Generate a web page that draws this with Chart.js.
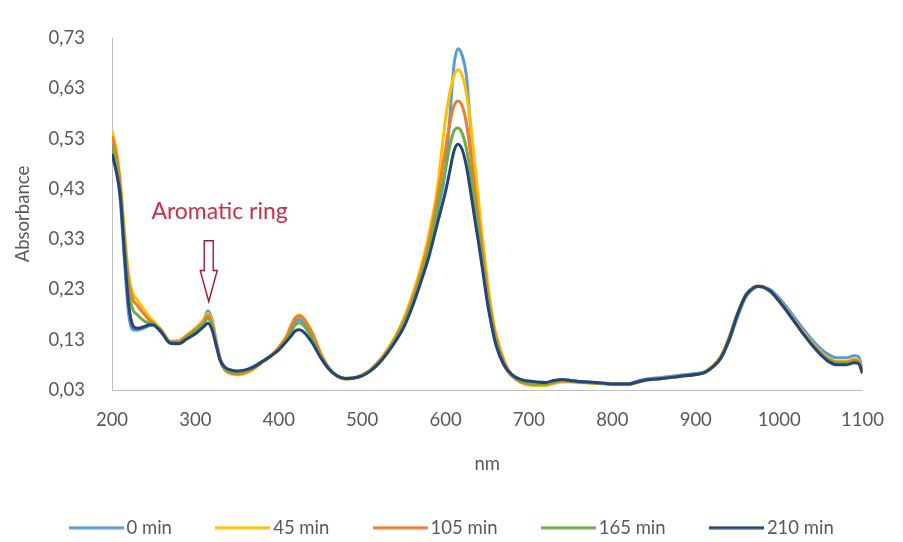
<!DOCTYPE html>
<html>
<head>
<meta charset="utf-8">
<script src="https://cdn.jsdelivr.net/npm/chart.js@4.4.1/dist/chart.umd.min.js"></script>
<style>
  html, body { margin: 0; padding: 0; background: #ffffff; }
  #wrap { width: 903px; height: 542px; }
</style>
</head>
<body>
<div id="wrap"><canvas id="spectra" width="903" height="542"></canvas></div>
<script>
// Wavelength grid (nm)
const wavelengths = [
  200, 205, 210, 215, 220, 225, 230, 235, 240, 245, 250, 255, 260,
  270, 280, 290, 300, 310,
  315, 320, 325, 330, 335, 340,
  350, 360, 370, 380, 390, 400, 410,
  415, 420, 425, 430,
  440, 450, 460, 470, 480, 490, 500, 510, 520, 530, 540, 550, 560, 570, 580, 590, 600,
  605, 610, 615, 620, 625, 630, 635, 640, 645, 650, 655, 660,
  670, 680, 690, 700, 710, 720, 730, 740, 750, 760,
  780, 800, 820, 830, 840, 860, 880, 900,
  910, 920, 930, 940, 950, 960, 970,
  975, 980, 990, 1000, 1010, 1020, 1030, 1040, 1050, 1060, 1070, 1080, 1090,
  1095, 1100
];

// Absorbance at each wavelength, one array per irradiation time
const abs0min = [
  0.520, 0.475, 0.405, 0.285, 0.180, 0.150, 0.149, 0.151, 0.154, 0.158, 0.160, 0.155, 0.146,
  0.124, 0.123, 0.135, 0.150, 0.170,
  0.187, 0.170, 0.128, 0.092, 0.075, 0.069,
  0.066, 0.069, 0.077, 0.087, 0.098, 0.112, 0.135,
  0.152, 0.166, 0.170, 0.164,
  0.138, 0.100, 0.073, 0.058, 0.053, 0.054, 0.059, 0.069, 0.084, 0.105, 0.130, 0.160, 0.200, 0.250, 0.305, 0.380, 0.470,
  0.570, 0.675, 0.709, 0.695, 0.655, 0.550, 0.435, 0.350, 0.275, 0.212, 0.163, 0.125,
  0.079, 0.057, 0.048, 0.045, 0.044, 0.044, 0.048, 0.050, 0.049, 0.047,
  0.045, 0.043, 0.043, 0.048, 0.052, 0.055, 0.059, 0.063,
  0.066, 0.076, 0.093, 0.128, 0.175, 0.215, 0.233,
  0.236, 0.235, 0.229, 0.213, 0.193, 0.171, 0.149, 0.129, 0.112, 0.100, 0.094, 0.094, 0.098,
  0.097, 0.072
];

const abs45min = [
  0.545, 0.510, 0.445, 0.345, 0.258, 0.222, 0.210, 0.198, 0.186, 0.175, 0.166, 0.157, 0.148,
  0.127, 0.128, 0.140, 0.153, 0.170,
  0.182, 0.167, 0.125, 0.088, 0.070, 0.064,
  0.060, 0.063, 0.072, 0.085, 0.098, 0.115, 0.140,
  0.160, 0.175, 0.179, 0.173,
  0.145, 0.105, 0.075, 0.058, 0.052, 0.054, 0.060, 0.071, 0.088, 0.110, 0.138, 0.173, 0.218, 0.272, 0.340, 0.430, 0.570,
  0.620, 0.655, 0.667, 0.655, 0.620, 0.560, 0.480, 0.400, 0.320, 0.250, 0.190, 0.145,
  0.090, 0.058, 0.045, 0.040, 0.039, 0.039, 0.043, 0.046, 0.046, 0.045,
  0.043, 0.041, 0.041, 0.045, 0.049, 0.053, 0.057, 0.061,
  0.065, 0.077, 0.097, 0.136, 0.182, 0.220, 0.235,
  0.237, 0.236, 0.226, 0.208, 0.187, 0.165, 0.143, 0.123, 0.105, 0.093, 0.087, 0.087, 0.091,
  0.089, 0.068
];

const abs105min = [
  0.535, 0.500, 0.435, 0.330, 0.245, 0.210, 0.199, 0.188, 0.178, 0.169, 0.163, 0.156, 0.147,
  0.126, 0.127, 0.138, 0.151, 0.166,
  0.178, 0.163, 0.123, 0.088, 0.071, 0.065,
  0.062, 0.065, 0.073, 0.085, 0.097, 0.114, 0.138,
  0.158, 0.173, 0.177, 0.171,
  0.143, 0.103, 0.074, 0.058, 0.052, 0.054, 0.060, 0.070, 0.086, 0.108, 0.134, 0.167, 0.210, 0.262, 0.325, 0.410, 0.510,
  0.560, 0.595, 0.605, 0.595, 0.560, 0.500, 0.430, 0.365, 0.295, 0.230, 0.178, 0.137,
  0.086, 0.058, 0.046, 0.042, 0.041, 0.041, 0.045, 0.048, 0.047, 0.046,
  0.044, 0.042, 0.042, 0.046, 0.050, 0.053, 0.057, 0.061,
  0.065, 0.077, 0.096, 0.134, 0.182, 0.220, 0.235,
  0.237, 0.236, 0.225, 0.207, 0.186, 0.164, 0.141, 0.121, 0.103, 0.091, 0.085, 0.085, 0.089,
  0.087, 0.067
];

const abs165min = [
  0.515, 0.480, 0.420, 0.315, 0.225, 0.190, 0.180, 0.172, 0.166, 0.163, 0.161, 0.154, 0.145,
  0.125, 0.124, 0.135, 0.147, 0.162,
  0.172, 0.157, 0.121, 0.088, 0.073, 0.067,
  0.064, 0.068, 0.075, 0.086, 0.097, 0.111, 0.132,
  0.147, 0.160, 0.164, 0.158,
  0.133, 0.098, 0.073, 0.058, 0.053, 0.054, 0.059, 0.069, 0.085, 0.106, 0.131, 0.162, 0.203, 0.253, 0.310, 0.390, 0.470,
  0.515, 0.545, 0.551, 0.540, 0.510, 0.460, 0.400, 0.340, 0.278, 0.217, 0.168, 0.130,
  0.082, 0.058, 0.048, 0.044, 0.043, 0.043, 0.047, 0.049, 0.048, 0.046,
  0.044, 0.042, 0.042, 0.046, 0.050, 0.053, 0.057, 0.061,
  0.065, 0.076, 0.095, 0.132, 0.181, 0.219, 0.234,
  0.236, 0.235, 0.224, 0.206, 0.185, 0.163, 0.140, 0.120, 0.102, 0.089, 0.083, 0.083, 0.086,
  0.085, 0.065
];

const abs210min = [
  0.500, 0.465, 0.415, 0.300, 0.200, 0.158, 0.153, 0.154, 0.157, 0.160, 0.159, 0.152, 0.143,
  0.123, 0.122, 0.132, 0.142, 0.156,
  0.163, 0.150, 0.118, 0.088, 0.076, 0.071,
  0.068, 0.070, 0.076, 0.086, 0.097, 0.110, 0.128,
  0.138, 0.148, 0.150, 0.145,
  0.124, 0.095, 0.072, 0.058, 0.053, 0.054, 0.058, 0.068, 0.083, 0.103, 0.127, 0.155, 0.195, 0.243, 0.295, 0.360, 0.425,
  0.465, 0.505, 0.519, 0.508, 0.475, 0.425, 0.370, 0.318, 0.262, 0.205, 0.160, 0.122,
  0.080, 0.060, 0.051, 0.048, 0.046, 0.045, 0.049, 0.051, 0.049, 0.047,
  0.045, 0.042, 0.042, 0.046, 0.050, 0.053, 0.057, 0.061,
  0.064, 0.075, 0.093, 0.130, 0.180, 0.218, 0.234,
  0.236, 0.235, 0.226, 0.207, 0.185, 0.162, 0.139, 0.118, 0.100, 0.086, 0.080, 0.080, 0.084,
  0.083, 0.063
];

const seriesLabels = ['0 min', '45 min', '105 min', '165 min', '210 min'];
const seriesValues = [abs0min, abs45min, abs105min, abs165min, abs210min];
const seriesColors = ['#5B9BD5', '#FFC000', '#ED7D31', '#70AD47', '#264478'];

// Axis ranges and ticks
const xTickMin = 200, xTickMax = 1100, xTickStep = 100;
const yTickMin = 0.03, yTickMax = 0.73, yTickStep = 0.1;

// Band annotation: label and arrow pointing at the ~316 nm band
const bandLabel = 'Aromatic ring';
const bandLabelAt = { nm: 329, abs: 0.385 };
const bandArrow = { nm: 316, fromAbs: 0.327, toAbs: 0.206 };

const textGrey = '#595959';
const axisGrey = '#BFBFBF';
const baseFont = { family: 'Lato, "Open Sans", sans-serif', size: 18.5 };

// Legend marker: a short horizontal stroke in the series colour
const legendStrokeWidth = 55;
function legendStroke(color) {
  const c = document.createElement('canvas');
  c.width = legendStrokeWidth;
  c.height = 4;
  const g = c.getContext('2d');
  g.fillStyle = color;
  g.fillRect(0, 0.5, legendStrokeWidth, 3);
  return c;
}

// Centre the legend row on the full canvas width rather than the padded box
const legendCentring = {
  id: 'legendCentring',
  afterLayout(chart) {
    const lg = chart.legend;
    if (!lg) return;
    const shift = (chart.width - (lg.left + lg.right)) / 2 + 3;
    lg.left += shift;
    lg.right += shift;
  }
};

const bandAnnotation = {
  id: 'bandAnnotation',
  afterDatasetsDraw(chart) {
    const { ctx, scales: { x, y } } = chart;
    ctx.save();
    ctx.font = '23px Lato, "Open Sans", sans-serif';
    ctx.fillStyle = '#C8304A';
    ctx.textAlign = 'center';
    ctx.textBaseline = 'middle';
    ctx.fillText(bandLabel, x.getPixelForValue(bandLabelAt.nm), y.getPixelForValue(bandLabelAt.abs));
    // hollow down arrow
    const cx = x.getPixelForValue(bandArrow.nm);
    const top = y.getPixelForValue(bandArrow.fromAbs);
    const tip = y.getPixelForValue(bandArrow.toAbs);
    const shaftHalf = 4.5, headHalf = 8.5, headLen = 31;
    const neck = tip - headLen;
    ctx.beginPath();
    ctx.moveTo(cx - shaftHalf, top);
    ctx.lineTo(cx + shaftHalf, top);
    ctx.lineTo(cx + shaftHalf, neck);
    ctx.lineTo(cx + headHalf, neck);
    ctx.lineTo(cx, tip);
    ctx.lineTo(cx - headHalf, neck);
    ctx.lineTo(cx - shaftHalf, neck);
    ctx.closePath();
    ctx.fillStyle = '#ffffff';
    ctx.fill();
    ctx.lineWidth = 1.4;
    ctx.strokeStyle = '#A3182E';
    ctx.stroke();
    ctx.restore();
  }
};

const datasets = seriesLabels.map((label, i) => ({
  label,
  data: wavelengths.map((w, k) => ({ x: w, y: seriesValues[i][k] })),
  borderColor: seriesColors[i],
  backgroundColor: seriesColors[i],
  borderWidth: 3,
  pointRadius: 0,
  pointHoverRadius: 0,
  fill: false,
  cubicInterpolationMode: 'monotone',
  // later series are painted over earlier ones
  order: seriesLabels.length - 1 - i
}));

new Chart(document.getElementById('spectra'), {
  type: 'line',
  data: { datasets },
  plugins: [bandAnnotation, legendCentring],
  options: {
    responsive: false,
    animation: false,
    devicePixelRatio: 1,
    layout: { padding: { top: 25, right: 30, bottom: -5, left: 0 } },
    plugins: {
      legend: {
        position: 'bottom',
        labels: {
          usePointStyle: true,
          pointStyleWidth: 42,
          padding: 50,
          color: textGrey,
          font: baseFont,
          sort: (a, b) => a.datasetIndex - b.datasetIndex,
          generateLabels(chart) {
            const items = Chart.defaults.plugins.legend.labels.generateLabels(chart);
            items.forEach(it => { it.pointStyle = legendStroke(seriesColors[it.datasetIndex]); });
            return items;
          }
        }
      },
      tooltip: { enabled: false }
    },
    scales: {
      x: {
        type: 'linear',
        min: xTickMin,
        max: xTickMax,
        ticks: {
          stepSize: xTickStep,
          color: textGrey,
          font: baseFont,
          padding: 19,
          maxRotation: 0,
          autoSkip: false,
          callback: v => String(v)
        },
        grid: { drawOnChartArea: false, drawTicks: false },
        border: { color: axisGrey, width: 1 },
        title: { display: true, text: 'nm', color: textGrey, font: baseFont, padding: { top: 0, bottom: -6.6 } },
        afterFit(scale) { scale.height = 78.5; }
      },
      y: {
        min: yTickMin,
        max: yTickMax,
        ticks: {
          stepSize: yTickStep,
          color: textGrey,
          font: baseFont,
          padding: 27,
          callback: v => Number(v).toFixed(2).replace('.', ',')
        },
        grid: { drawOnChartArea: false, drawTicks: false },
        border: { color: axisGrey, width: 1 },
        title: { display: true, text: 'Absorbance', color: textGrey, font: baseFont, padding: { top: 12, bottom: 0 } },
        afterFit(scale) { scale.width = 112; }
      }
    }
  }
});
</script>
</body>
</html>
